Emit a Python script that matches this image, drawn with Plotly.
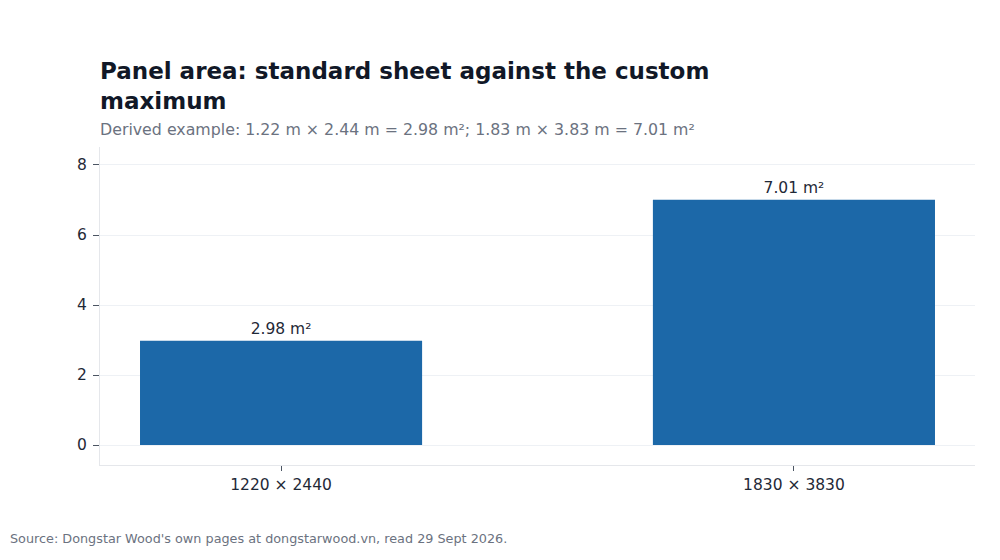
import plotly.graph_objects as go

categories = ["1220 × 2440", "1830 × 3830"]
areas = [2.98, 7.01]
labels = ["2.98 m²", "7.01 m²"]
y_ticks = [0, 2, 4, 6, 8]

FONT = "DejaVu Sans"

fig = go.Figure(
    go.Bar(
        x=[0, 1],
        y=areas,
        width=0.55,
        marker=dict(color="#1c68a8", line=dict(width=0)),
        text=labels,
        textposition="outside",
        textfont=dict(family=FONT, size=15.5, color="#1f2937"),
        cliponaxis=False,
        hoverinfo="skip",
    )
)

fig.update_layout(
    width=1000,
    height=560,
    margin=dict(l=100, r=25, t=147, b=95),
    paper_bgcolor="white",
    plot_bgcolor="white",
    showlegend=False,
    font=dict(family=FONT, color="#1f2937"),
    title=dict(
        text="<b>Panel area: standard sheet against the custom<br>maximum</b>",
        x=0.1,
        xanchor="left",
        xref="container",
        y=1 - 79 / 560,
        yanchor="top",
        yref="container",
        font=dict(family=FONT, size=23, color="#111827"),
    ),
    xaxis=dict(
        tickmode="array",
        tickvals=[0, 1],
        ticktext=categories,
        range=[-0.353, 1.353],
        showgrid=False,
        showline=True,
        linecolor="#e5e7eb",
        linewidth=1,
        ticks="outside",
        ticklen=5,
        tickcolor="#4b5563",
        tickfont=dict(family=FONT, size=15.5, color="#1f2937"),
        zeroline=False,
    ),
    yaxis=dict(
        tickmode="array",
        tickvals=y_ticks,
        range=[-0.571, 8.514],
        showgrid=True,
        gridcolor="#eef1f5",
        gridwidth=1,
        showline=True,
        linecolor="#e5e7eb",
        linewidth=1,
        ticks="outside",
        ticklen=6,
        tickcolor="#4b5563",
        ticklabelstandoff=3,
        tickfont=dict(family=FONT, size=15.5, color="#1f2937"),
        zeroline=False,
    ),
    annotations=[
        dict(
            text="Derived example: 1.22 m × 2.44 m = 2.98 m²; 1.83 m × 3.83 m = 7.01 m²",
            xref="paper",
            yref="paper",
            x=0,
            xshift=-2,
            y=(465 - 129) / 318,
            xanchor="left",
            yanchor="middle",
            showarrow=False,
            font=dict(family=FONT, size=15.8, color="#6b7280"),
        ),
        dict(
            text="Source: Dongstar Wood's own pages at dongstarwood.vn, read 29 Sept 2026.",
            xref="paper",
            yref="paper",
            x=(10 - 100) / 875,
            xshift=-2,
            y=(465 - 538) / 318,
            xanchor="left",
            yanchor="middle",
            showarrow=False,
            font=dict(family=FONT, size=12.8, color="#6b7280"),
        ),
    ],
)

fig.write_html("out.html")
